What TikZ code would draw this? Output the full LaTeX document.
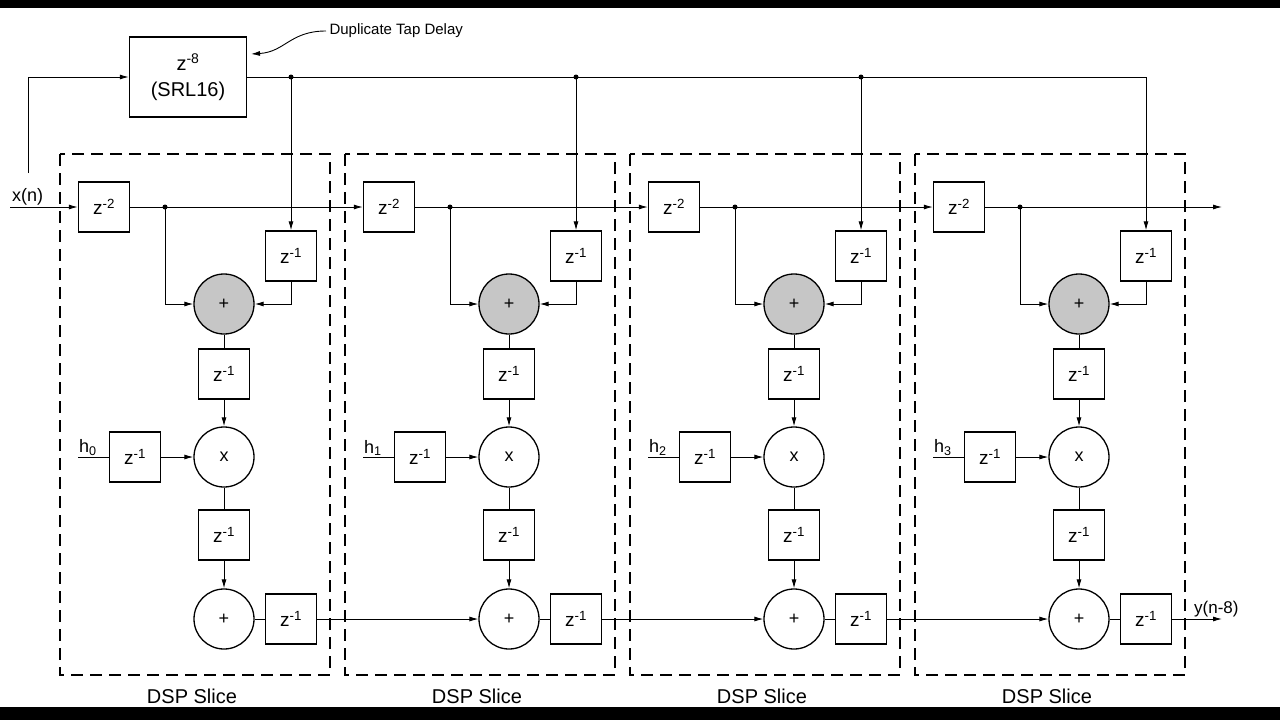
\documentclass[tikz,border=0pt]{standalone}
\usepackage{fontspec}
\setmainfont{Liberation Sans}
\usetikzlibrary{arrows.meta}

\tikzset{
	dly/.style={draw,line width=1.3pt,minimum width=51pt,minimum height=50pt,inner sep=0pt,font=\fontsize{19}{19}\selectfont},
	add/.style={draw,line width=1.3pt,circle,minimum size=60pt,inner sep=0pt,font=\fontsize{18}{18}\selectfont},
	wire/.style={line width=0.9pt},
	arr/.style={wire,-{Latex[length=9pt,width=5pt]}},
	tap/.style={circle,fill,inner sep=0pt,minimum size=5pt}
}

\begin{document}
\begin{tikzpicture}[x=1pt,y=-1pt]

\useasboundingbox (0,0) rectangle (1280,720);
\fill[white] (0,0) rectangle (1280,720);
\fill[black] (0,0) rectangle (1280,8);
\fill[black] (0,707) rectangle (1280,720);

% DUPLICATE TAP DELAY

\node[dly,minimum width=117pt,minimum height=80pt,align=center,font=\fontsize{20}{26}\selectfont] (srl) at (188,77) {z\textsuperscript{-8}\\(SRL16)};
\node[anchor=west,font=\fontsize{15}{15}\selectfont] (note) at (326,31) {Duplicate Tap Delay};
\coordinate (tip) at (251,54);
\draw[arr] (note.west) .. controls (290,31) and (285,52) .. (tip);

% INPUT

\coordinate (xin) at (10,207);
\coordinate (xup) at (28,173);
\node[anchor=south west,inner sep=2pt,font=\fontsize{18}{18}\selectfont] (xlab) at (xin) {x(n)};
\draw[arr] (xup) |- (srl.west);

% DSP SLICES

\foreach \i in {0,...,3}{
\begin{scope}[xshift={\i*285pt}]
	\draw[dashed,line width=1.5pt,dash pattern=on 12pt off 7pt] (60,154) rectangle (330,675);
	\node[font=\fontsize{20}{20}\selectfont] (lab\i) at (192,696) {DSP Slice};
	\node[dly] (dz\i) at (104,207) {z\textsuperscript{-2}};
	\node[dly] (tz\i) at (291,256) {z\textsuperscript{-1}};
	\node[add,fill=gray!45] (pre\i) at (224,304) {+};
	\node[dly] (az\i) at (224,374) {z\textsuperscript{-1}};
	\node[add] (mul\i) at (224,457) {x};
	\node[dly] (hz\i) at (135,457) {z\textsuperscript{-1}};
	\node[dly] (mz\i) at (224,535) {z\textsuperscript{-1}};
	\node[add] (sum\i) at (224,619) {+};
	\node[dly] (oz\i) at (291,619) {z\textsuperscript{-1}};
	\coordinate (br\i) at (165,207);
	\coordinate (tap\i) at (291,77);
	\coordinate (hin\i) at (78,457);
	\node[tap] at (br\i) {};
	\draw[arr] (br\i) |- (pre\i);
	\draw[arr] (tz\i) |- (pre\i);
	\draw[arr] (tap\i) -- (tz\i);
	\draw[wire] (pre\i) -- (az\i);
	\draw[arr] (az\i) -- (mul\i);
	\draw[wire] (hin\i) -- (hz\i);
	\node[anchor=south west,inner sep=1pt,font=\fontsize{18}{18}\selectfont] at (hin\i) {h\textsubscript{\i}};
	\draw[arr] (hz\i) -- (mul\i);
	\draw[wire] (mul\i) -- (mz\i);
	\draw[arr] (mz\i) -- (sum\i);
	\draw[wire] (sum\i) -- (oz\i);
\end{scope}
}

% TAP LINE AND CHAINS

\draw[wire] (srl.east) -- (tap3);
\foreach \i in {0,1,2}{\node[tap] at (tap\i) {};}
\draw[arr] (xin) -- (dz0);
\foreach \i/\j in {0/1,1/2,2/3}{
	\draw[arr] (dz\i) -- (dz\j);
	\draw[arr] (oz\i) -- (sum\j);
}
\coordinate (xout) at (1222,207);
\coordinate (yout) at (1222,619);
\draw[arr] (dz3) -- (xout);
\draw[arr] (oz3) -- (yout);
\node[anchor=south west,inner sep=2pt,font=\fontsize{17}{17}\selectfont] (ylab) at (1192,619) {y(n-8)};

\end{tikzpicture}
\end{document}
